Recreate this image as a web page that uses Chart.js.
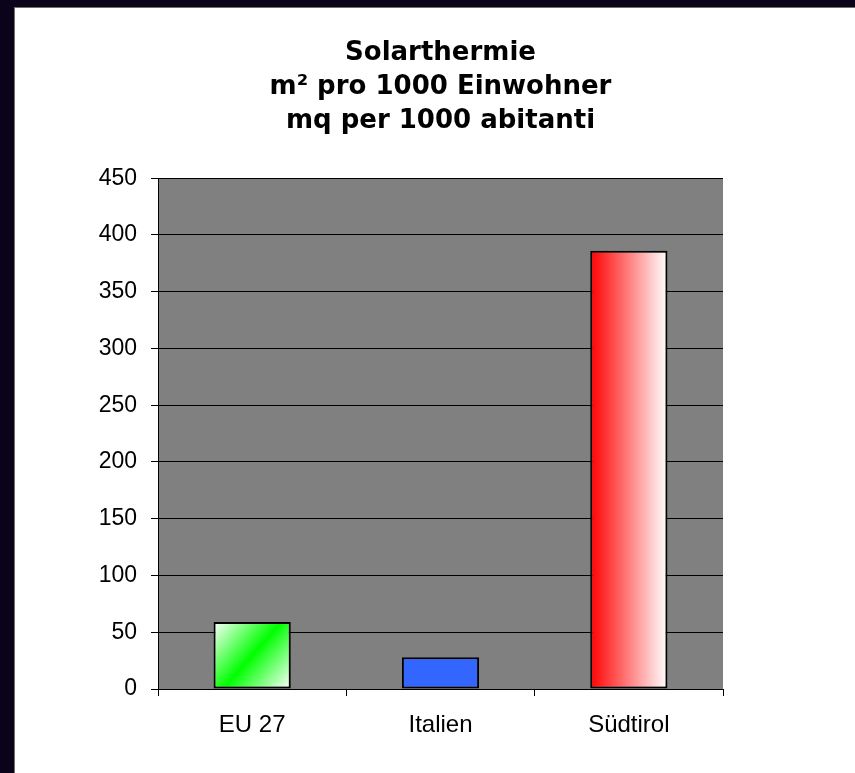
<!DOCTYPE html>
<html lang="de">
  <head>
    <meta charset="UTF-8" />
    <title>Solarthermie</title>
    <style>
      html, body { margin: 0; padding: 0; overflow: hidden; }
      body { background: #0a0319; width: 855px; height: 773px; }
      .frame {
        position: absolute; left: 14px; top: 7px;
        width: 860px; height: 766px;
        background: #ffffff;
        border-left: 1px solid #6f6f6f; border-top: 1px solid #6f6f6f;
      }
      canvas { display: block; }
    </style>
  </head>
  <body>
    <div class="frame">
      <canvas id="bar" width="860" height="765"></canvas>
    </div>

    <script src="https://cdn.jsdelivr.net/npm/chart.js@4.4.0/dist/chart.umd.min.js"></script>
    <script>
      // data
      const categories = ["EU 27", "Italien", "Südtirol"];
      const values = [59, 28, 386];
      const titleLines = ["Solarthermie", "m² pro 1000 Einwohner", "mq per 1000 abitanti"];
      const yMin = 0;
      const yMax = 450;
      const yStep = 50;

      const barPct = 0.41;

      // bar geometry from the scales, used for the gradients
      function barBox(chart, i) {
        const xs = chart.scales.x;
        const ys = chart.scales.y;
        const cx = xs.getPixelForValue(i);
        const w = (xs.width / categories.length) * barPct;
        return {
          left: cx - w / 2,
          right: cx + w / 2,
          top: ys.getPixelForValue(values[i]),
          bottom: ys.getPixelForValue(0),
        };
      }

      function barFill(context) {
        const chart = context.chart;
        const i = context.dataIndex;
        if (!chart.chartArea || !chart.scales.x) return ["#00ff00", "#3366ff", "#ff0000"][i];
        const ctx = chart.ctx;
        const b = barBox(chart, i);
        if (i === 0) {
          const g = ctx.createLinearGradient(b.left, b.top, b.right, b.bottom);
          g.addColorStop(0, "#ffffff");
          g.addColorStop(0.5, "#00ff00");
          g.addColorStop(1, "#ffffff");
          return g;
        }
        if (i === 2) {
          const g = ctx.createLinearGradient(b.left, 0, b.right, 0);
          g.addColorStop(0, "#ff0000");
          g.addColorStop(1, "#ffffff");
          return g;
        }
        return "#3366ff";
      }

      // gray plot area
      const plotBackground = {
        id: "plotBackground",
        beforeDraw(chart) {
          const a = chart.chartArea;
          const ctx = chart.ctx;
          ctx.save();
          ctx.fillStyle = "#808080";
          ctx.fillRect(a.left, a.top, a.right - a.left, a.bottom - a.top);
          ctx.restore();
        },
      };

      Chart.defaults.font.family = "'Liberation Sans', Arial, sans-serif";
      Chart.defaults.color = "#000000";

      const bar = document.getElementById("bar").getContext("2d");
      const chart = new Chart(bar, {
        type: "bar",
        data: {
          labels: categories,
          datasets: [
            {
              data: values,
              backgroundColor: barFill,
              borderColor: "#000000",
              borderWidth: 2,
              borderSkipped: false,
              categoryPercentage: 1,
              barPercentage: barPct,
            },
          ],
        },
        options: {
          responsive: false,
          animation: false,
          devicePixelRatio: 1,
          layout: { padding: { left: 0, right: 152, top: 0, bottom: 0 } },
          plugins: {
            legend: { display: false },
            tooltip: { enabled: false },
            title: {
              display: true,
              fullSize: false,
              text: titleLines,
              color: "#000000",
              font: { family: "'DejaVu Sans', sans-serif", size: 26, weight: "bold", lineHeight: 1.31 },
              padding: { top: 28, bottom: 40 },
            },
          },
          scales: {
            x: {
              offset: true,
              grid: {
                offset: true,
                drawOnChartArea: false,
                color: "#000000",
                tickLength: 7,
              },
              border: { display: true, color: "#000000", width: 1 },
              ticks: { font: { size: 24 }, padding: 15, maxRotation: 0 },
              afterFit(scale) {
                scale.height = 84;
              },
            },
            y: {
              min: yMin,
              max: yMax,
              grid: { color: "#000000", lineWidth: 1, tickLength: 7 },
              border: { display: true, color: "#000000", width: 1 },
              ticks: { stepSize: yStep, font: { size: 23 }, padding: 14 },
              afterFit(scale) {
                scale.width = 143;
              },
            },
          },
        },
        plugins: [plotBackground],
      });
    </script>
  </body>
</html>
